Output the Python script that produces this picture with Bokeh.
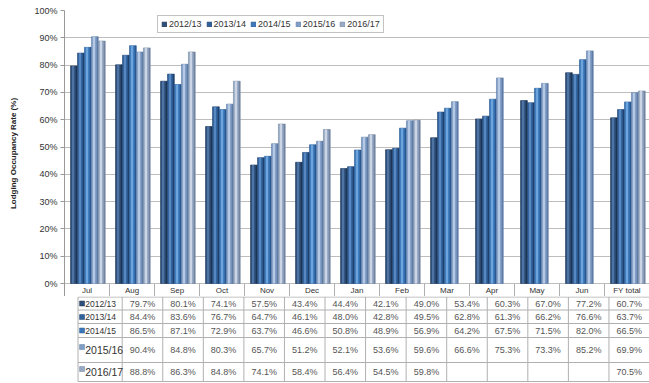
from bokeh.plotting import figure
from bokeh.models import (ColumnDataSource, FactorRange, Range1d, FixedTicker,
                          PrintfTickFormatter, Legend, LegendItem)
from bokeh.transform import dodge
from bokeh.layouts import column
from bokeh.core.properties import value, field
from bokeh.embed import file_html
from bokeh.resources import INLINE

# ---------------- data ----------------
months = ["Jul", "Aug", "Sep", "Oct", "Nov", "Dec", "Jan", "Feb", "Mar",
          "Apr", "May", "Jun", "FY total"]
series_names = ["2012/13", "2013/14", "2014/15", "2015/16", "2016/17"]
fy2012 = [79.7, 80.1, 74.1, 57.5, 43.4, 44.4, 42.1, 49.0, 53.4, 60.3, 67.0, 77.2, 60.7]
fy2013 = [84.4, 83.6, 76.7, 64.7, 46.1, 48.0, 42.8, 49.5, 62.8, 61.3, 66.2, 76.6, 63.7]
fy2014 = [86.5, 87.1, 72.9, 63.7, 46.6, 50.8, 48.9, 56.9, 64.2, 67.5, 71.5, 82.0, 66.5]
fy2015 = [90.4, 84.8, 80.3, 65.7, 51.2, 52.1, 53.6, 59.6, 66.6, 75.3, 73.3, 85.2, 69.9]
fy2016 = [88.8, 86.3, 84.8, 74.1, 58.4, 56.4, 54.5, 59.8, None, None, None, None, 70.5]
y_ticks = [0, 10, 20, 30, 40, 50, 60, 70, 80, 90, 100]
y_title = "Lodging Occupancy Rate (%)"

all_series = [fy2012, fy2013, fy2014, fy2015, fy2016]

# ---------------- styles ----------------
FONT = "Liberation Sans"
base_cols = ["#2d4f7a", "#31619b", "#3b78bb", "#809dc6", "#97a9c4"]
hi_cols = ["#4f74a3", "#5888c2", "#6ea4dc", "#b6c9e4", "#cbd5e5"]
dark_cols = ["#1d3454", "#1f426f", "#28588f", "#5f7ca6", "#72849f"]
offsets = [-0.31, -0.155, 0.0, 0.155, 0.31]
BAR_W = 0.152
GRID = "#bdbdbd"
TABLE = "#b0b0b0"

# ---------------- chart (with header row) ----------------
frame_px = 273.0          # pixels from 0% to 100%
header_px = 13.0
ymin = -header_px / frame_px * 100

p = figure(width=649, height=296, x_range=FactorRange(*months),
           y_range=Range1d(ymin, 100), output_backend="svg", toolbar_location=None,
           x_axis_location=None,
           min_border_left=64, min_border_right=0, min_border_top=10,
           min_border_bottom=0)
p.outline_line_color = None
p.background_fill_color = "white"
p.border_fill_color = "white"
p.xgrid.visible = False
p.ygrid.ticker = FixedTicker(ticks=y_ticks)
p.ygrid.grid_line_color = GRID
p.yaxis.ticker = FixedTicker(ticks=y_ticks)
p.yaxis.formatter = PrintfTickFormatter(format="%d%%")
p.yaxis.major_label_text_font = FONT
p.yaxis.major_label_text_font_size = "9px"
p.yaxis.major_label_text_color = "#333333"
p.yaxis.major_label_standoff = 3
p.yaxis.major_tick_out = 4
p.yaxis.major_tick_in = 0
p.yaxis.minor_tick_line_color = None
p.yaxis.major_tick_line_color = "#999999"
p.yaxis.axis_line_color = "#999999"
p.yaxis.axis_label = y_title
p.yaxis.axis_label_text_font = FONT
p.yaxis.axis_label_text_font_size = "8px"
p.yaxis.axis_label_text_font_style = "bold"
p.yaxis.axis_label_text_color = "#222222"
p.yaxis.axis_label_standoff = 13

legend_items = []
for k, (name, vals) in enumerate(zip(series_names, all_series)):
    ms = [m for m, v in zip(months, vals) if v is not None]
    vs = [v for v in vals if v is not None]
    src = ColumnDataSource(dict(month=ms, v=vs))
    off = offsets[k] + 0.02
    r = p.vbar(x=dodge("month", off, range=p.x_range), top="v", bottom=0,
               width=BAR_W, source=src, fill_color=base_cols[k],
               line_color=dark_cols[k], line_width=0.6)
    p.vbar(x=dodge("month", off - 0.02, range=p.x_range), top="v", bottom=0,
           width=0.05, source=src, fill_color=hi_cols[k], line_color=None)
    p.vbar(x=dodge("month", off + 0.055, range=p.x_range), top="v", bottom=0,
           width=0.03, source=src, fill_color=dark_cols[k], line_color=None)
    legend_items.append(LegendItem(label=name, renderers=[r]))

legend = Legend(items=legend_items, orientation="horizontal", location=(93, 263),
                label_text_font=FONT, label_text_font_size="9px",
                label_text_color="#333333", glyph_width=6, glyph_height=6,
                label_standoff=2, spacing=4, padding=3, margin=0,
                border_line_color="#888888", background_fill_color="white",
                background_fill_alpha=1.0, label_height=9)
p.add_layout(legend, "center")

# header row: text hangs just below the 0% line
hdr = ColumnDataSource(dict(month=months, y0=[0.0] * len(months),
                            y1=[ymin] * len(months)))
p.text(x="month", y="y0", text="month", source=hdr, text_font=value(FONT),
       text_font_size="8px", text_color="#333333", text_align="center",
       text_baseline="middle", y_offset=7)
p.segment(x0=dodge("month", 0.5, range=p.x_range), y0="y0",
          x1=dodge("month", 0.5, range=p.x_range), y1="y1",
          source=hdr, line_color=TABLE, line_width=1)

# ---------------- table ----------------
col_px = 585.0 / len(months)
q = figure(width=649, height=87, x_range=Range1d(-64 / col_px, len(months)),
           y_range=Range1d(87, 0), output_backend="svg", toolbar_location=None,
           x_axis_location=None, y_axis_location=None,
           min_border_left=0, min_border_right=0, min_border_top=0,
           min_border_bottom=0)
q.outline_line_color = None
q.grid.visible = False
q.background_fill_color = "white"
q.border_fill_color = "white"

row_lines = [0.5, 13.5, 27, 41, 66, 85]
row_centers = [7, 20.5, 34, 53.5, 75.5]
left_x = (15 - 64) / col_px

# horizontal lines
q.segment(x0=[left_x] * len(row_lines), x1=[len(months)] * len(row_lines),
          y0=row_lines, y1=row_lines, line_color=TABLE, line_width=1)
# vertical lines
vx = [left_x] + list(range(len(months) + 1))
q.segment(x0=vx, x1=vx, y0=[row_lines[0]] * len(vx), y1=[row_lines[-1]] * len(vx),
          line_color=TABLE, line_width=1)

# values
tx, ty, tt = [], [], []
for r, vals in enumerate(all_series):
    for i, v in enumerate(vals):
        if v is not None:
            tx.append(i + 0.5)
            ty.append(row_centers[r])
            tt.append(f"{v:.1f}%")
q.text(x=tx, y=ty, text=tt, text_font=value(FONT), text_font_size="9px",
       text_color="#555555", text_align="center", text_baseline="middle")

# row labels
lab_src = ColumnDataSource(dict(
    x=[(23 - 64) / col_px] * 5, y=row_centers, t=series_names,
    fs=["8.5px", "8.5px", "8.5px", "10.5px", "10.5px"]))
q.text(x="x", y="y", text="t", source=lab_src, text_font=value(FONT),
       text_font_size=field("fs"), text_color="#333333", text_align="left",
       text_baseline="middle")
sw_y = [c - (3 if i >= 3 else 0) for i, c in enumerate(row_centers)]
q.scatter(x=[(19.5 - 64) / col_px] * 5, y=sw_y, marker="square", size=5,
          fill_color=base_cols, line_color=dark_cols, line_width=0.5)

layout = column(p, q, spacing=0)
open("out.html", "w").write(file_html(layout, INLINE))
